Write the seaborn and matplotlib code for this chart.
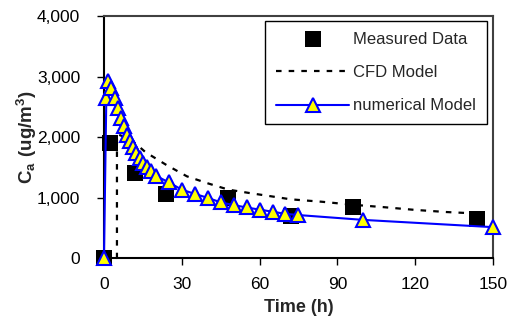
import matplotlib
matplotlib.use("Agg")
import matplotlib.pyplot as plt
import matplotlib.ticker as mticker
import numpy as np
import pandas as pd
import seaborn as sns

# measured concentrations
meas_t = [0, 2.5, 12, 24, 48, 72, 96, 144]
meas_c = [0, 1900, 1400, 1050, 1000, 700, 850, 650]

# CFD model curve
cfd_t = [0, 5, 5, 8, 12, 16, 24, 32, 40, 48, 56, 66, 72, 84, 96, 108, 120, 132, 144]
cfd_c = [0, 0, 2050, 2000, 1900, 1750, 1540, 1350, 1235, 1130, 1075, 1010, 970, 930, 880, 840, 795, 760, 735]

# numerical model
num_t = [0, 0.9, 1.6, 2.8, 4.1, 5.4, 6.5, 7.6, 8.8, 10, 11.2, 12.5, 13.8, 15, 16.5, 18,
         20, 25, 30, 35, 40, 45, 50, 55, 60, 65, 70, 75, 100, 150]
num_c = [0, 2640, 2930, 2810, 2640, 2480, 2320, 2180, 2040, 1930, 1830, 1730, 1650, 1570, 1500, 1440,
         1360, 1250, 1130, 1060, 995, 920, 875, 835, 800, 765, 730, 710, 630, 510]

sns.set_style('ticks')
plt.rcParams['font.family'] = ['Liberation Sans', 'DejaVu Sans']
plt.rcParams['mathtext.fontset'] = 'custom'
plt.rcParams['mathtext.rm'] = 'Liberation Sans'
plt.rcParams['mathtext.bf'] = 'Liberation Sans:bold'

fig = plt.figure(figsize=(5.14, 3.22), dpi=100)
ax = fig.add_axes([0.2023, 0.1988, 0.7567, 0.7512])

cfd_df = pd.DataFrame({'t': cfd_t, 'c': cfd_c})
meas_df = pd.DataFrame({'t': meas_t, 'c': meas_c})
num_df = pd.DataFrame({'t': num_t, 'c': num_c})

sns.lineplot(data=cfd_df, x='t', y='c', ax=ax, color='black', lw=1.6,
             linestyle=(0, (2.5, 3.2)), estimator=None, sort=False,
             label='CFD Model', clip_on=False, zorder=2)
sns.scatterplot(data=meas_df, x='t', y='c', ax=ax, marker='s', s=130, color='black',
                edgecolor='black', linewidth=0, label='Measured Data', clip_on=False, zorder=3)
sns.lineplot(data=num_df, x='t', y='c', ax=ax, color='blue', lw=1.5,
             marker='^', markersize=10.5, markerfacecolor='yellow', markeredgecolor='blue',
             markeredgewidth=1.5, estimator=None, sort=False,
             label='numerical Model', clip_on=False, zorder=4)

ax.set_xlim(0, 150)
ax.set_ylim(0, 4000)
ax.set_xticks([0, 30, 60, 90, 120, 150])
ax.set_yticks([0, 1000, 2000, 3000, 4000])
ax.yaxis.set_major_formatter(mticker.StrMethodFormatter('{x:,.0f}'))
ax.tick_params(direction='out', length=5, width=1, labelsize=12.5, colors='black')
ax.tick_params(axis='x', pad=9)
ax.tick_params(axis='y', pad=12)

for side in ['left', 'bottom', 'top', 'right']:
    ax.spines[side].set_visible(True)
    ax.spines[side].set_linewidth(1.5)
    ax.spines[side].set_color('#404040')
ax.spines['left'].set_color('black')
ax.spines['bottom'].set_color('black')

ax.set_xlabel('Time (h)', fontsize=13, fontweight='bold', labelpad=5)
ax.set_ylabel(r'$\mathbf{C_a\ (ug/m^3)}$', fontsize=13.5)
ax.yaxis.set_label_coords(-0.167, 0.5)

handles, labels = ax.get_legend_handles_labels()
order = [labels.index('Measured Data'), labels.index('CFD Model'), labels.index('numerical Model')]
leg = ax.legend([handles[i] for i in order], [labels[i] for i in order],
                loc='upper right', bbox_to_anchor=(0.985, 0.98), fontsize=12,
                frameon=True, fancybox=False, edgecolor='black', framealpha=1,
                handlelength=4.4, handletextpad=0.25, labelspacing=1.1,
                borderpad=0.65, borderaxespad=0)
leg.get_frame().set_linewidth(1)

fig.savefig('out.png', dpi=100)
